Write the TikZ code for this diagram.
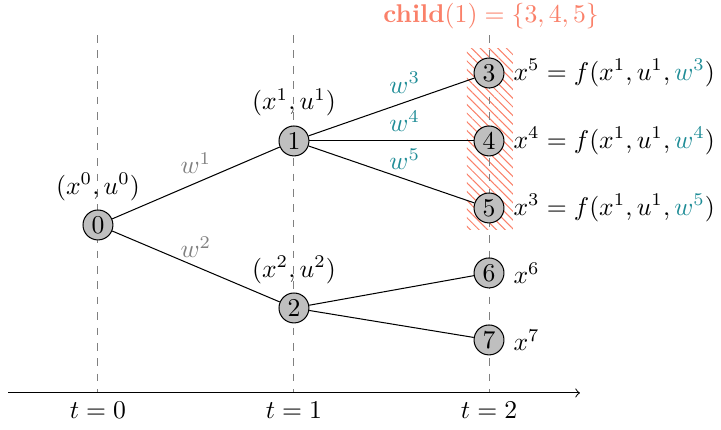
\documentclass[tikz,border=0pt]{standalone}
\usepackage{amsmath,amssymb}
\usepackage{xcolor}
\usetikzlibrary{positioning,patterns.meta}

\definecolor{childred}{RGB}{250,128,105}
\definecolor{noiseteal}{RGB}{30,140,150}

\begin{document}
\begin{tikzpicture}[state/.style={circle, draw, fill=gray!50, inner sep=0pt, minimum size=0.41cm}, timeline/.style={dashed, gray}]
\useasboundingbox (0,0) rectangle (9.877,5.890);

% children of node 1
\fill[pattern={Lines[angle=-45, distance=2.4pt, line width=0.4pt]}, pattern color=childred] (6.397,2.740) rectangle (7.027,5.230);
\node (child) [text=childred] at (6.726,5.675) {\textbf{child}$(1) = \{3,4,5\}$};

% time axis
\coordinate (axstart) at (0.11,0.507);
\coordinate (axend) at (7.945,0.507);
\foreach \t/\x in {0/1.342, 1/4.027, 2/6.699} {
  \coordinate (top\t) at (\x,5.41);
  \coordinate (tick\t) at (\x,0.507);
  \draw[timeline] (top\t) -- (tick\t);
  \node (tlbl\t) [below=0pt of tick\t] {$t=\t$};
}
\draw[->] (axstart) -- (axend);

\node (n0) [state, label=above:{$(x^0,u^0)$}] at (1.342,2.808) {0};
\node (n1) [state, label=above:{$(x^1,u^1)$}] at (4.027,3.959) {1};
\node (n2) [state, label=above:{$(x^2,u^2)$}] at (4.027,1.671) {2};
\node (n3) [state, label=right:{$x^5 = f(x^1,u^1,\textcolor{noiseteal}{w^3})$}] at (6.699,4.890) {3};
\node (n4) [state, label=right:{$x^4 = f(x^1,u^1,\textcolor{noiseteal}{w^4})$}] at (6.699,3.959) {4};
\node (n5) [state, label=right:{$x^3 = f(x^1,u^1,\textcolor{noiseteal}{w^5})$}] at (6.699,3.041) {5};
\node (n6) [state, label=right:{$x^6$}] at (6.699,2.151) {6};
\node (n7) [state, label=right:{$x^7$}] at (6.699,1.233) {7};

\draw (n0) -- node[above, text=gray] {$w^1$} (n1);
\draw (n0) -- node[above, text=gray] {$w^2$} (n2);
\draw (n1) -- node[pos=0.58, above, text=noiseteal] {$w^3$} (n3);
\draw (n1) -- node[pos=0.58, above, text=noiseteal] {$w^4$} (n4);
\draw (n1) -- node[pos=0.58, above, text=noiseteal] {$w^5$} (n5);
\draw (n2) -- (n6);
\draw (n2) -- (n7);
\end{tikzpicture}
\end{document}
